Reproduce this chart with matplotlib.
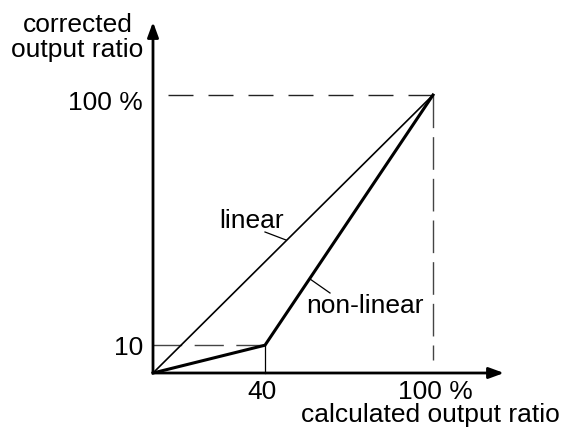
import matplotlib.pyplot as plt

# values in percent
linear_x = [0, 100]
linear_y = [0, 100]
nonlin_x = [0, 40, 100]
nonlin_y = [0, 10, 100]
knee_x, knee_y = 40, 10
full = 100

plt.rcParams['font.family'] = ['Liberation Sans', 'DejaVu Sans']
plt.rcParams['lines.scale_dashes'] = False
fs = 19

# pixel layout: x_px = 153 + 2.8*x, y_px = 373 - 2.78*y
SX, SY = 2.8, 2.78
def px(x):
    return (x - 153) / SX
def py(y):
    return (373 - y) / SY

fig = plt.figure(figsize=(5.7, 4.28), dpi=100)
ax = fig.add_axes([0, 0, 1, 1])
ax.set_xlim(px(0), px(570))
ax.set_ylim(py(428), py(0))
ax.axis('off')

# axes with arrows
arrow = dict(arrowstyle='-|>,head_length=0.9,head_width=0.33',
             color='black', lw=2, shrinkA=0, shrinkB=0)
ax.annotate('', xy=(px(504), 0), xytext=(0, 0), arrowprops=arrow)
ax.annotate('', xy=(0, py(22)), xytext=(0, 0), arrowprops=arrow)

# dashed guides
ax.plot([full, 0], [full, full], color='#222222', lw=1.0,
        dashes=(18, 10.8), dash_capstyle='butt')
ax.plot([full, full], [full, py(360)], color='#444444', lw=1.0,
        dashes=(23.5, 6.5), dash_capstyle='butt')
ax.plot([knee_x, 0], [knee_y, knee_y], color='#444444', lw=1.0,
        dashes=(21, 9), dash_capstyle='butt')
ax.plot([knee_x, knee_x], [knee_y, 0], color='black', lw=0.9)

# curves
ax.plot(linear_x, linear_y, color='black', lw=1.2, solid_capstyle='butt')
ax.plot(nonlin_x, nonlin_y, color='black', lw=2.2, solid_joinstyle='miter')

# labels with leader lines
ax.text(px(252), py(228), 'linear', fontsize=fs, ha='center', va='baseline')
ax.plot([px(265), px(286)], [py(232), py(240)], color='black', lw=0.9)
ax.text(px(364.5), py(313), 'non-linear', fontsize=fs, ha='center', va='baseline')
ax.plot([px(310), px(330)], [py(279), py(293)], color='black', lw=0.9)

# tick labels
ax.text(px(143), py(110), '100 %', fontsize=fs, ha='right', va='baseline')
ax.text(px(143), py(355), '10', fontsize=fs, ha='right', va='baseline')
ax.text(px(262.5), py(399), '40', fontsize=fs, ha='center', va='baseline')
ax.text(px(435), py(399), '100 %', fontsize=fs, ha='center', va='baseline')

# axis titles
ax.text(px(560), py(422), 'calculated output ratio', fontsize=fs,
        ha='right', va='baseline')
ax.text(px(77.5), py(32), 'corrected', fontsize=fs, ha='center', va='baseline')
ax.text(px(77.5), py(57), 'output ratio', fontsize=fs, ha='center', va='baseline')

fig.savefig('out.png', dpi=100)
